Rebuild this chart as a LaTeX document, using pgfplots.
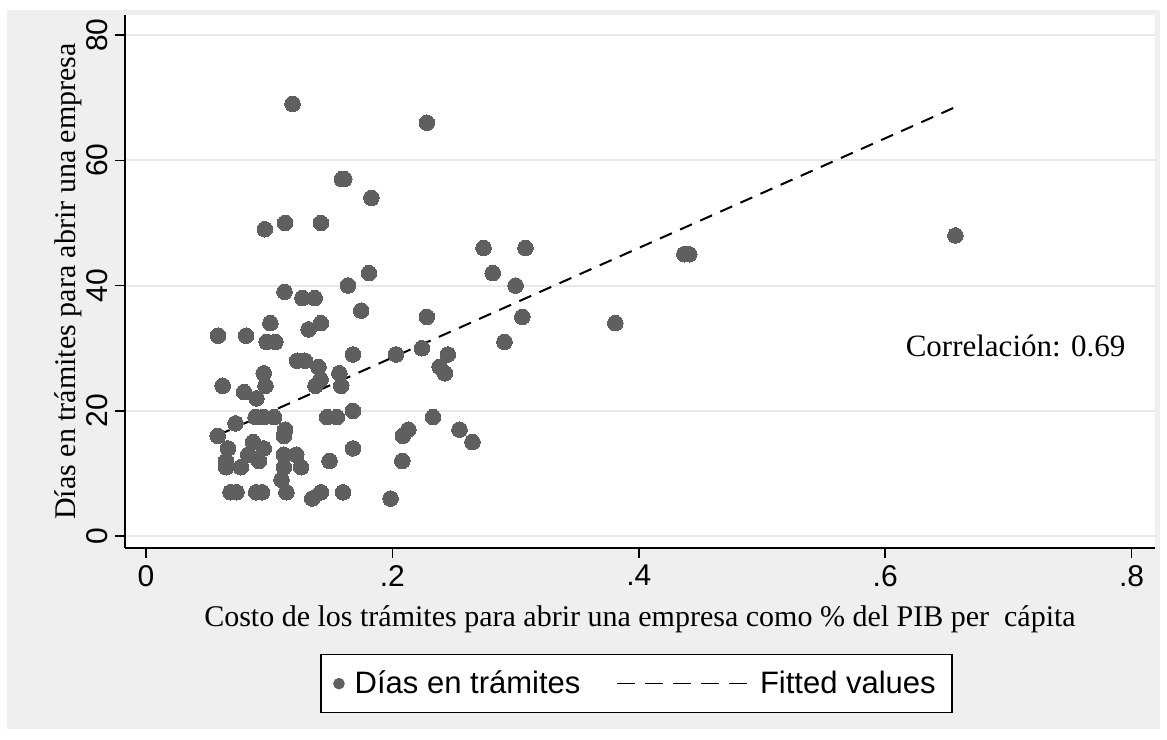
\documentclass[border=0pt]{standalone}
\usepackage{fontspec}
\setmainfont{Liberation Serif}
\setsansfont{Liberation Sans}
\usepackage{pgfplots}
\pgfplotsset{compat=1.18}
\definecolor{bggray}{RGB}{239,239,239}
\definecolor{mkgray}{RGB}{95,95,95}
\definecolor{gridgray}{RGB}{232,232,232}

\begin{document}
\begin{tikzpicture}
\fill[white] (0,0) rectangle (583.5pt,369.5pt);
\fill[bggray] (3.5pt,5pt) rectangle (580pt,364.5pt);
\begin{axis}[
  at={(62.5pt,95.5pt)}, anchor=south west,
  scale only axis, width=515pt, height=266.5pt,
  xmin=-0.017, xmax=0.819, ymin=-1.9, ymax=83.2,
  axis background/.style={fill=white},
  axis x line*=bottom, axis y line*=left,
  x axis line style={-, line width=0.9pt},
  y axis line style={-, line width=0.9pt},
  xtick={0,0.2,0.4,0.6,0.8}, xticklabels={0,.2,.4,.6,.8},
  ytick={0,20,40,60,80}, yticklabels={0,20,40,60,80},
  tick align=outside, major tick length=5pt,
  tick style={black, line width=0.75pt},
  ymajorgrids, major grid style={gridgray, line width=1pt},
  ticklabel style={font=\sffamily\fontsize{15pt}{18pt}\selectfont},
  yticklabel style={rotate=90, anchor=south},
  xlabel={Costo de los trámites para abrir una empresa como \% del PIB per\ \ cápita},
  ylabel={Días en trámites para abrir una empresa},
  label style={font=\fontsize{15pt}{18pt}\selectfont},
  xlabel style={at={(axis description cs:0.5,-0.148)}, anchor=base},
  ylabel style={at={(axis description cs:-0.0485,0.5)}, anchor=base},
  legend columns=2,
  legend style={at={(0.4966,-0.2545)}, anchor=center, draw=black, line width=0.75pt,
    fill=white, font=\sffamily\fontsize{15.5pt}{18pt}\selectfont,
    inner xsep=6pt, inner ysep=6pt,
    /tikz/every even column/.append style={column sep=16pt}},
]
\addplot[only marks, mark=*, mark size=3.9pt, mark options={fill=mkgray, draw=mkgray, line width=0pt},
  legend image code/.code={\fill[mkgray] (0pt,0pt) circle (2.5pt);}]
table {
x y
0.119 69
0.228 66
0.159 57
0.161 57
0.183 54
0.0965 49
0.113 50
0.142 50
0.657 48
0.274 46
0.308 46
0.437 45
0.441 45
0.2815 42
0.181 42
0.300 40
0.164 40
0.1125 39
0.127 38
0.137 38
0.1747 36
0.228 35
0.3055 35
0.381 34
0.101 34
0.142 34
0.132 33
0.0585 32
0.0813 32
0.098 31
0.105 31
0.291 31
0.224 30
0.168 29
0.203 29
0.245 29
0.1227 28
0.129 28
0.140 27
0.2385 27
0.2426 26
0.0956 26
0.157 26
0.1417 25
0.0623 24
0.097 24
0.1376 24
0.1585 24
0.0797 23
0.0897 22
0.168 20
0.089 19
0.0956 19
0.104 19
0.147 19
0.155 19
0.233 19
0.0727 18
0.113 17
0.213 17
0.2545 17
0.0583 16
0.112 16
0.2085 16
0.087 15
0.265 15
0.0665 14
0.0956 14
0.168 14
0.083 13
0.112 13
0.122 13
0.0918 12
0.065 12
0.149 12
0.208 12
0.065 11
0.077 11
0.112 11
0.126 11
0.110 9
0.0686 7
0.0735 7
0.0895 7
0.0943 7
0.114 7
0.142 7
0.160 7
0.135 6
0.1985 6
};
\addlegendentry{\hspace{3pt}Días en trámites}
\addplot[black, line width=1pt, dash pattern=on 6.5pt off 4.5pt,
  legend image code/.code={\draw[black, line width=0.8pt, dash pattern=on 9pt off 5pt] (0pt,0pt) -- (65pt,0pt);}]
coordinates {(0.0583,16.1) (0.657,68.5)};
\addlegendentry{\hspace{4pt}Fitted values}
\node[anchor=base, font=\fontsize{15.5pt}{18pt}\selectfont] at (axis cs:0.7058,28.6) {Correlación: 0.69};
\end{axis}
\pgfresetboundingbox
\useasboundingbox (0,0) rectangle (583.5pt,369.5pt);
\end{tikzpicture}
\end{document}
